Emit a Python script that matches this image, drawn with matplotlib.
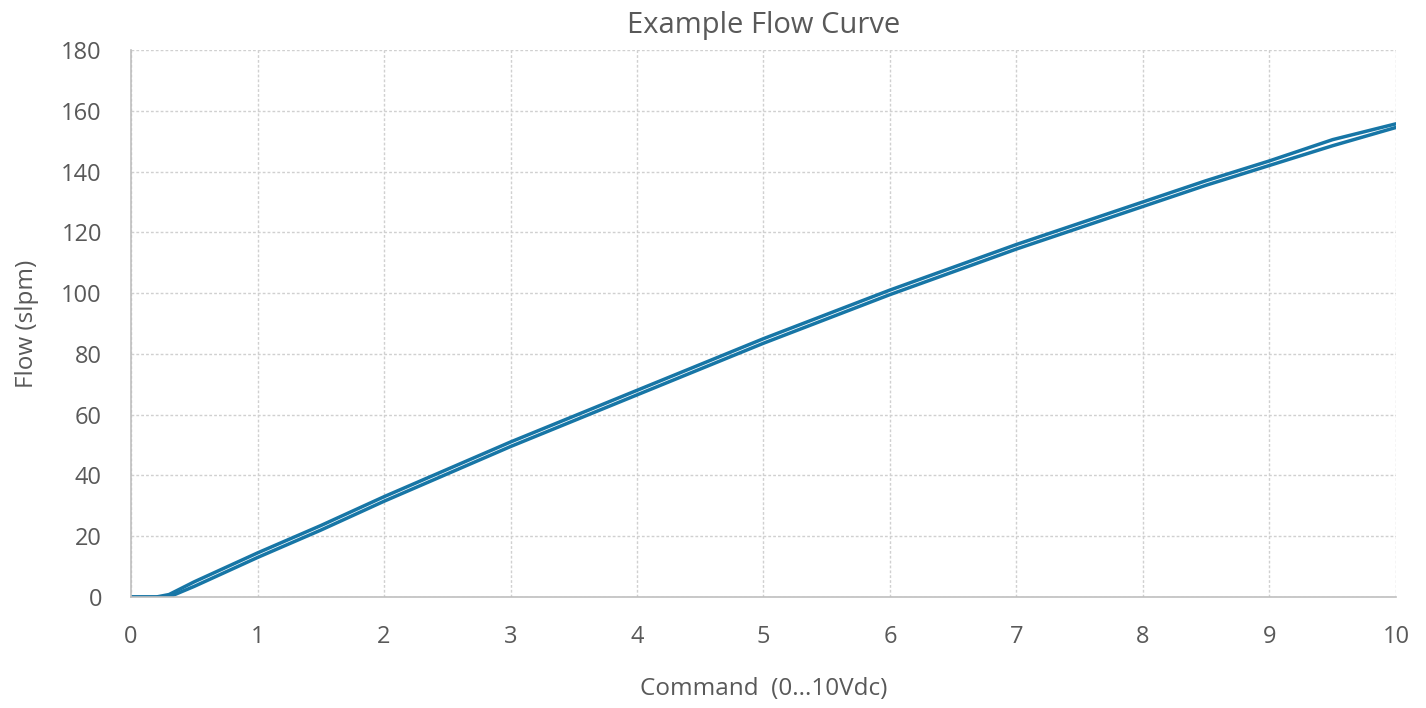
import matplotlib
matplotlib.use("Agg")
import matplotlib.pyplot as plt

# command voltage (V) and flow (slpm), rising and falling sweeps
command = [0, 0.2, 0.3, 0.5, 1, 1.5, 2, 2.5, 3, 3.5, 4, 4.5, 5, 5.5, 6, 6.5, 7, 7.5, 8, 8.5, 9, 9.5, 10]
flow_up = [0, 0, 0, 3.5, 13, 22, 31.5, 40.5, 49.5, 58, 66.5, 75, 83.5, 91.5, 99.5, 107, 114.5, 121.5, 128.5, 135.5, 142, 148.5, 154.5]
flow_down = [0, 0, 0.8, 5, 14.5, 23.5, 33, 42, 51, 59.5, 68, 76.5, 85, 93, 101, 108.5, 116, 123, 130, 137, 143.5, 150.5, 155.7]

x_ticks = list(range(0, 11))
y_ticks = list(range(0, 181, 20))

plt.rcParams['font.family'] = ['Open Sans', 'DejaVu Sans']
text_color = '#595959'
line_color = '#1776a6'

fig = plt.figure(figsize=(14.26, 7.08), dpi=100)
ax = fig.add_axes([0.0919, 0.1568, 0.887, 0.7726])

ax.plot(command, flow_up, color=line_color, linewidth=2.5, solid_capstyle='round')
ax.plot(command, flow_down, color=line_color, linewidth=2.5, solid_capstyle='round')

ax.set_xlim(0, 10)
ax.set_ylim(0, 180)
ax.set_xticks(x_ticks)
ax.set_yticks(y_ticks)
ax.tick_params(axis='both', length=0, labelsize=17, labelcolor=text_color)
ax.tick_params(axis='x', pad=20)
ax.tick_params(axis='y', pad=21)

ax.grid(True, color='#d0d0d0', linestyle=(0, (2, 1.5)), linewidth=1)
ax.set_axisbelow(True)
for side in ['top', 'right']:
    ax.spines[side].set_visible(False)
for side in ['left', 'bottom']:
    ax.spines[side].set_color('#bfbfbf')
    ax.spines[side].set_linewidth(1.2)

ax.set_title('Example Flow Curve', fontsize=21, color=text_color, pad=12)
ax.set_xlabel('Command  (0...10Vdc)', fontsize=17.5, color=text_color, labelpad=20)
ax.set_ylabel('Flow (slpm)', fontsize=17.5, color=text_color, labelpad=16)

fig.savefig('out.png', dpi=100)
